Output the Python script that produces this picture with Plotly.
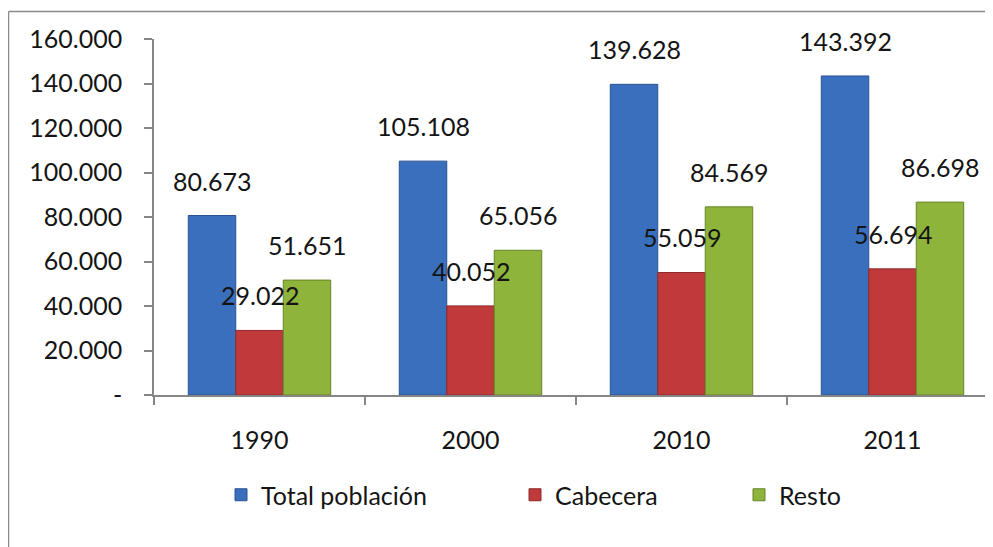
import plotly.graph_objects as go

years = ["1990", "2000", "2010", "2011"]
total = [80673, 105108, 139628, 143392]
cabecera = [29022, 40052, 55059, 56694]
resto = [51651, 65056, 84569, 86698]
series_names = ["Total población", "Cabecera", "Resto"]
ytick_vals = [0, 20000, 40000, 60000, 80000, 100000, 120000, 140000, 160000]
ytick_text = ["-", "20.000", "40.000", "60.000", "80.000", "100.000", "120.000", "140.000", "160.000"]

# the page body has an 8px margin; lay the figure out to compensate
OFF = 8
W, H = 993 - OFF, 547 - OFF
FONT = "Lato, 'Open Sans', sans-serif"
TXT = "#141414"
colors = ["#3A6FBD", "#C0393B", "#8FB43C"]
lines = ["#2A5290", "#8E2A2B", "#66852A"]

def fmt(v):
    return f"{v:,}".replace(",", ".")

fig = go.Figure()
data = [total, cabecera, resto]
legend_ids = ["legend", "legend2", "legend3"]
for i, (vals, name) in enumerate(zip(data, series_names)):
    fig.add_trace(go.Bar(
        x=years, y=vals, name=name,
        marker=dict(color=colors[i], line=dict(color=lines[i], width=1)),
        legend=legend_ids[i],
    ))

# data labels
bar_px = 47.5
shifts = [-bar_px, 0, bar_px]
for i, vals in enumerate(data):
    for k, v in enumerate(vals):
        fig.add_annotation(
            x=k, y=v, text=fmt(v), showarrow=False,
            xshift=shifts[i], yshift=18, yanchor="bottom",
            font=dict(family=FONT, size=25, color=TXT),
        )

# plot area in figure pixels
L, T, B = 154 - OFF, 39 - OFF, 395 - OFF
PW, PH = W - L, B - T
def px2x(p): return (p - OFF - L) / PW
def py2y(p): return (B - (p - OFF)) / PH
fig.add_shape(type="line", xref="paper", yref="paper",
              x0=px2x(8.5), x1=px2x(1000), y0=py2y(11.5), y1=py2y(11.5),
              line=dict(color="#8A8A8A", width=1.5))
fig.add_shape(type="line", xref="paper", yref="paper",
              x0=px2x(8.5), x1=px2x(8.5), y0=py2y(11.5), y1=py2y(560),
              line=dict(color="#8A8A8A", width=1.5))

legend_px = [213, 507, 731]
leg_common = dict(orientation="h", xref="container", yref="container",
                  xanchor="left", yanchor="middle", y=1 - (495 - OFF) / H,
                  font=dict(family=FONT, size=25, color=TXT),
                  bgcolor="rgba(0,0,0,0)", borderwidth=0)
fig.update_layout(
    legend=dict(x=legend_px[0] / W, **leg_common),
    legend2=dict(x=legend_px[1] / W, **leg_common),
    legend3=dict(x=legend_px[2] / W, **leg_common),
)

fig.update_layout(
    width=W, height=H,
    margin=dict(l=L, r=0, t=T, b=H - B, pad=0),
    paper_bgcolor="white", plot_bgcolor="white",
    barmode="group", bargap=0.325, bargroupgap=0,
    font=dict(family=FONT, size=25, color=TXT),
    xaxis=dict(
        type="category", range=[-0.5, 3.5 - 5 / 211],
        showline=True, linecolor="#868686", linewidth=1.5,
        ticks="outside", ticklen=8, tickcolor="#868686", tickwidth=1.5,
        tickson="boundaries", showgrid=False, zeroline=False,
        ticklabelstandoff=22,
        tickfont=dict(family=FONT, size=25, color=TXT),
    ),
    yaxis=dict(
        range=[0, 160000], tickvals=ytick_vals, ticktext=ytick_text,
        showline=True, linecolor="#868686", linewidth=1.5,
        ticks="outside", ticklen=8, tickcolor="#868686", tickwidth=1.5,
        showgrid=False, zeroline=False,
        ticklabelstandoff=17,
        tickfont=dict(family=FONT, size=25, color=TXT),
    ),
    showlegend=True,
)

fig.write_html("out.html")
